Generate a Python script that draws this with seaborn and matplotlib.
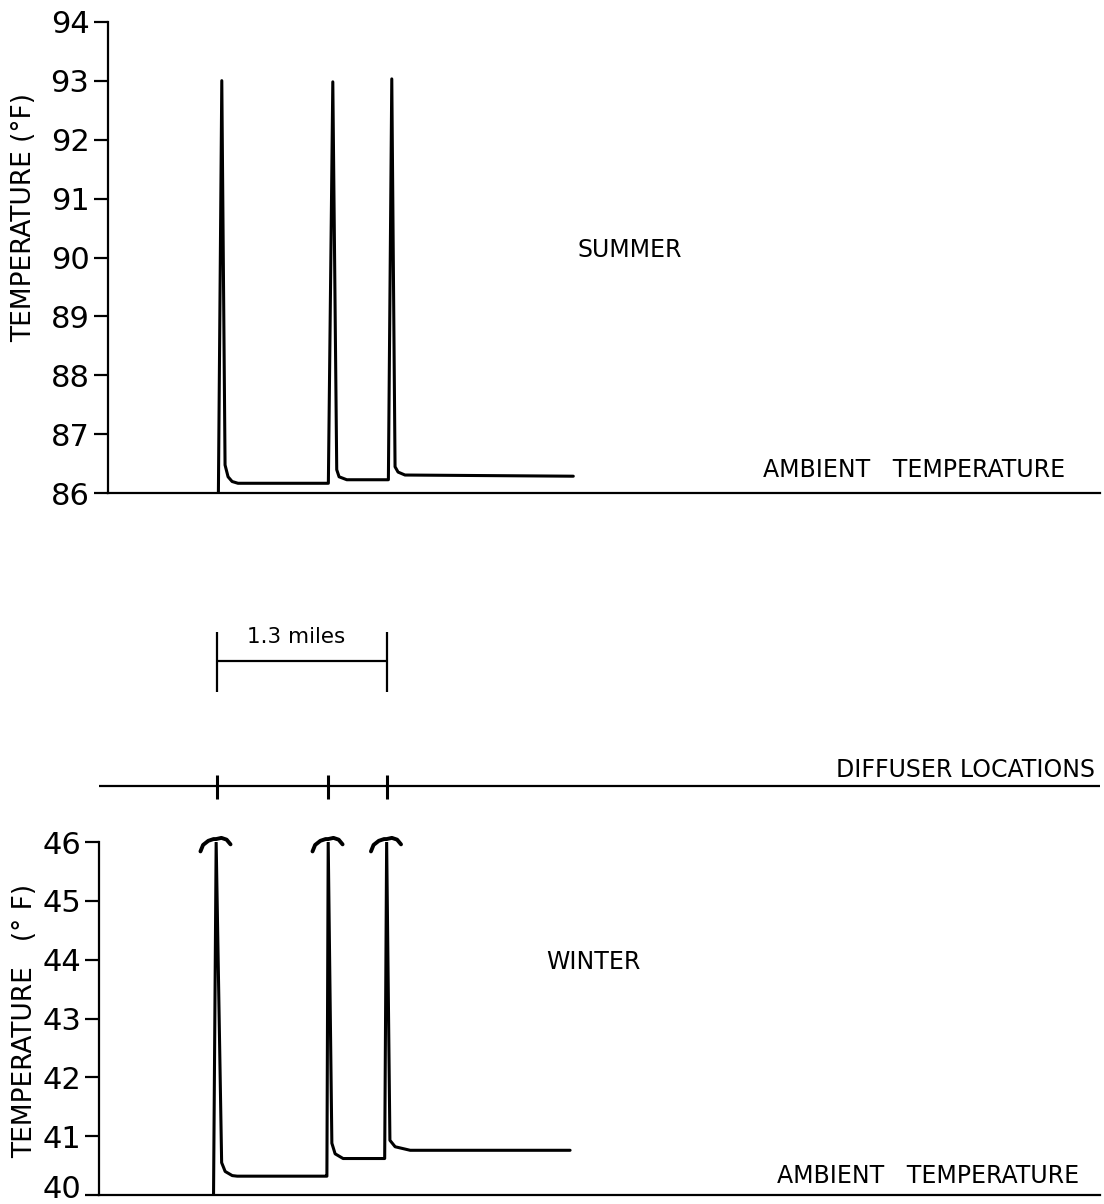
import matplotlib

matplotlib.use("Agg")
import matplotlib.pyplot as plt
import matplotlib.transforms as mtransforms
import pandas as pd
import seaborn as sns

# distance along the shore in miles (first diffuser = 0) and temperature in F
summer_miles = [0.014, 0.040, 0.065, 0.088, 0.119, 0.164, 0.855,
                0.889, 0.919, 0.937, 0.996, 1.314,
                1.340, 1.365, 1.388, 1.441, 2.728]
summer_temp = [86.0, 93.0, 86.48, 86.28, 86.20, 86.17, 86.17,
               92.98, 86.40, 86.28, 86.23, 86.23,
               93.03, 86.45, 86.36, 86.31, 86.29]

winter_miles = [-0.024, -0.004, 0.038, 0.065, 0.119, 0.157, 0.830,
                0.843, 0.853, 0.881, 0.906, 0.967, 1.273,
                1.285, 1.300, 1.325, 1.365, 1.480, 2.703]
winter_temp = [40.0, 46.0, 40.55, 40.40, 40.33, 40.32, 40.32,
               40.32, 46.0, 40.88, 40.70, 40.62, 40.62,
               40.62, 46.0, 40.93, 40.82, 40.76, 40.76]

# peaks that run off the top of the winter scale
winter_peaks = [-0.004, 0.853, 1.300]

diffuser_miles = [0.0, 0.853, 1.3]
bracket_miles = [0.0, 1.3]

summer_ticks = [86, 87, 88, 89, 90, 91, 92, 93, 94]
winter_ticks = [40, 41, 42, 43, 44, 45, 46]

summer = pd.DataFrame({"miles": summer_miles, "temp": summer_temp})
winter = pd.DataFrame({"miles": winter_miles, "temp": winter_temp})

sns.set_style("ticks")
plt.rcParams["font.family"] = ["DejaVu Sans"]
plt.rcParams["text.color"] = "black"
plt.rcParams["axes.labelcolor"] = "black"
plt.rcParams["xtick.color"] = "black"
plt.rcParams["ytick.color"] = "black"
plt.rcParams["axes.edgecolor"] = "black"

W, H = 1104, 1204
fig = plt.figure(figsize=(W / 100, H / 100), dpi=100)

X_RIGHT = 6.756
LW = 2.2
AX_LW = 1.6
BLACK = "black"
TXT = 17

# --- summer panel
ax1 = fig.add_axes([107.5 / W, 1 - 493.3 / H, (1100 - 107.5) / W, (493.3 - 21.7) / H])
sns.lineplot(data=summer, x="miles", y="temp", ax=ax1, color=BLACK,
             linewidth=LW, estimator=None, sort=False)
ax1.set_xlim(-0.834, X_RIGHT)
ax1.set_ylim(86, 94)
ax1.set_yticks(summer_ticks)
ax1.set_xticks([])
ax1.set_xlabel("")
ax1.set_ylabel("TEMPERATURE (°F)", fontsize=19)
ax1.yaxis.set_label_coords(-0.071, 0.584)
ax1.text(3.16, 90.13, "SUMMER", fontsize=TXT, ha="center", va="center")
ax1.text(6.49, 86.40, "AMBIENT   TEMPERATURE", fontsize=TXT, ha="right", va="center")

# --- diffuser strip
ax2 = fig.add_axes([99 / W, 1 - 810 / H, (1100 - 99) / W, 210 / H])
ax2.set_xlim(-0.90, X_RIGHT)
ax2.set_ylim(0, 1)
ax2.axis("off")
line_y = (810 - 786) / 210
ax2.axhline(line_y, color=BLACK, linewidth=AX_LW)
ax2.vlines(diffuser_miles, (810 - 799) / 210, (810 - 775) / 210,
           color=BLACK, linewidth=LW)
ax2.text(6.717, (810 - 770) / 210, "DIFFUSER LOCATIONS", fontsize=TXT,
         ha="right", va="center")
ax2.vlines(bracket_miles, (810 - 692) / 210, (810 - 632) / 210,
           color=BLACK, linewidth=1.6)
ax2.hlines((810 - 661) / 210, bracket_miles[0], bracket_miles[1],
           color=BLACK, linewidth=1.6)
ax2.text(0.61, (810 - 637) / 210, "1.3 miles", fontsize=15.5,
         ha="center", va="center")

# --- winter panel
ax3 = fig.add_axes([99 / W, 1 - 1195 / H, (1100 - 99) / W, (1195 - 842) / H])
sns.lineplot(data=winter, x="miles", y="temp", ax=ax3, color=BLACK,
             linewidth=LW, estimator=None, sort=False)
ax3.set_xlim(-0.90, X_RIGHT)
ax3.set_ylim(40, 46)
ax3.set_yticks(winter_ticks)
ax3.set_xticks([])
ax3.set_xlabel("")
ax3.set_ylabel("TEMPERATURE   (° F)", fontsize=19)
ax3.yaxis.set_label_coords(-0.061, 0.493)
ax3.text(2.88, 43.96, "WINTER", fontsize=TXT, ha="center", va="center")
ax3.text(6.60, 40.32, "AMBIENT   TEMPERATURE", fontsize=TXT, ha="right", va="center")

# off-scale caps on the winter peaks
cap_dx = [-0.12, -0.10, -0.06, -0.02, 0.0, 0.04, 0.08, 0.11]
cap_dy = [-0.16, -0.05, 0.02, 0.05, 0.05, 0.07, 0.04, -0.04]
for px in winter_peaks:
    ax3.plot([px + d for d in cap_dx], [46 + d for d in cap_dy],
             color=BLACK, linewidth=LW + 0.6, clip_on=False,
             solid_capstyle="round")

for ax in (ax1, ax3):
    sns.despine(ax=ax)
    ax.spines["left"].set_linewidth(AX_LW)
    ax.spines["bottom"].set_linewidth(AX_LW)
    ax.tick_params(axis="y", length=10, width=AX_LW, pad=3, labelsize=22,
                   direction="out")
    ax.tick_params(axis="x", length=0)

# lift the bottom winter label a little so it stays on the page
fig.canvas.draw()
lab40 = ax3.yaxis.get_major_ticks()[0].label1
lab40.set_transform(lab40.get_transform()
                    + mtransforms.ScaledTranslation(0, 9 / 100, fig.dpi_scale_trans))

fig.savefig("out.png", dpi=100)
